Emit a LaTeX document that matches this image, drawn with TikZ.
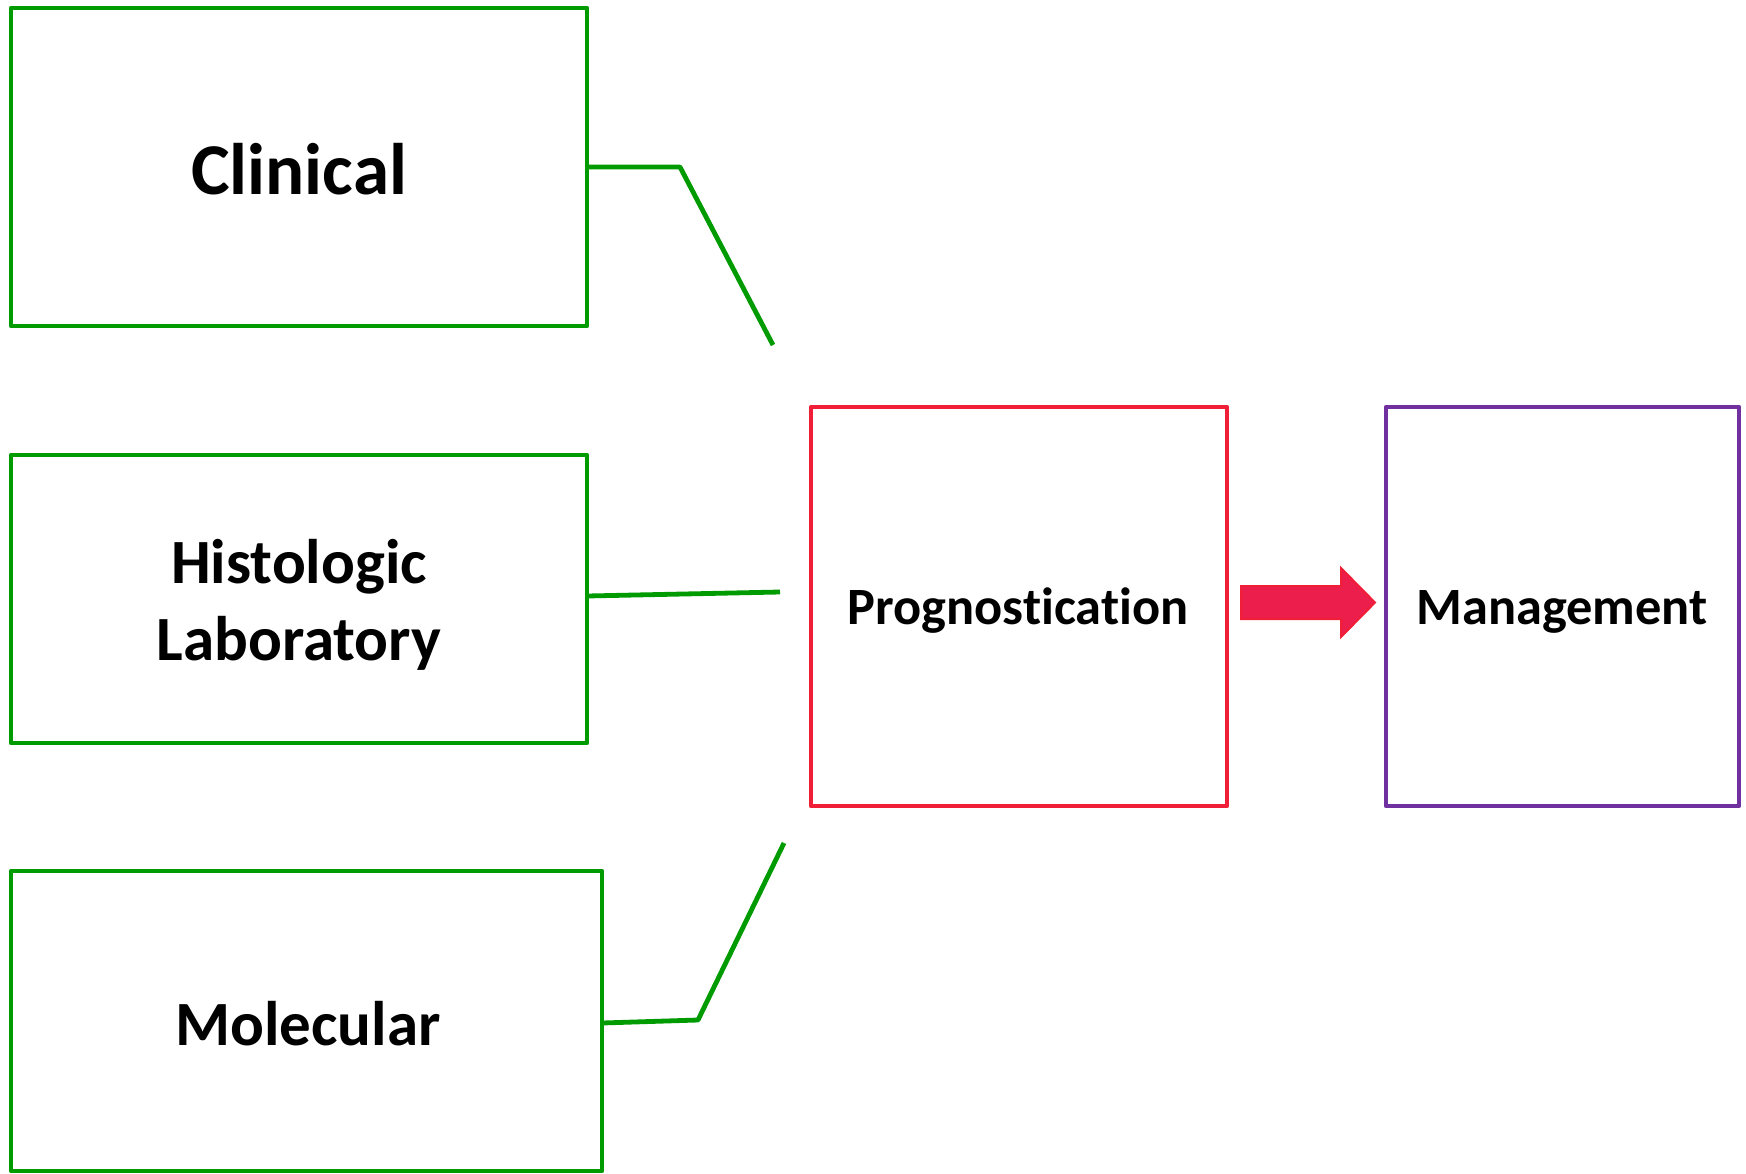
\documentclass[tikz,border=0pt]{standalone}
\usepackage{fontspec}
\setmainfont{Carlito}[Ligatures=NoCommon]
\definecolor{boxgreen}{RGB}{0,155,0}
\definecolor{progred}{RGB}{240,30,55}
\definecolor{arrowred}{RGB}{236,30,75}
\definecolor{manpurple}{RGB}{112,48,160}
\begin{document}
\begin{tikzpicture}[x=0.5pt,y=-0.5pt,
  box/.style={draw,line width=2.4pt,line join=round,inner sep=0pt,outer sep=0pt,rectangle},
  gbox/.style={box,draw=boxgreen},
  lbl/.style={font=\bfseries\fontsize{31.5}{38.5}\selectfont,align=center,inner sep=0pt},
  biglbl/.style={font=\bfseries\fontsize{36.5}{44}\selectfont,inner sep=0pt},
  smalllbl/.style={font=\bfseries\fontsize{26.2}{32}\selectfont,inner sep=0pt},
  link/.style={draw=boxgreen,line width=2.4pt,line join=round}]
\useasboundingbox (0,0) rectangle (1746,1173);
% boxes
\node[gbox,minimum width=288pt,minimum height=159pt] (clin) at (299,167) {};
\node[gbox,minimum width=288pt,minimum height=144pt] (hist) at (299,599) {};
\node[gbox,minimum width=295.5pt,minimum height=150pt] (mol) at (306.5,1021) {};
\node[box,draw=progred,minimum width=208pt,minimum height=199.5pt] (prog) at (1019,606.5) {};
\node[box,draw=manpurple,minimum width=176.5pt,minimum height=199.5pt] (man) at (1562.5,606.5) {};
% labels
\node[biglbl,anchor=base] (clinT) at (299,194) {Clinical};
\node[lbl] (histT) at (299,605) {Histologic\\Laboratory};
\node[lbl,anchor=base] (molT) at (308,1045) {Molecular};
\node[smalllbl,anchor=base] (progT) at (1018,624) {Prognostication};
\node[smalllbl,anchor=base] (manT) at (1562,624) {Management};
% connectors
\coordinate (c1) at (680,167);
\coordinate (c2) at (773,345);
\coordinate (h2) at (780,592);
\coordinate (m1) at (698,1020);
\coordinate (m2) at (784,843);
\draw[link] (clin.east) -- (c1) -- (c2);
\draw[link] (hist.east |- 0,596) -- (h2);
\draw[link] (mol.east |- 0,1023) -- (m1) -- (m2);
% block arrow
\coordinate (a0) at (1241,602.5);
\filldraw[fill=arrowred,draw=progred,line width=1pt,line join=miter]
  (a0) ++(0,-16.5) -- ++(100,0) -- ++(0,-18) -- ++(34,34.5) -- ++(-34,34.5)
  -- ++(0,-18) -- ++(-100,0) -- cycle;
\end{tikzpicture}
\end{document}
